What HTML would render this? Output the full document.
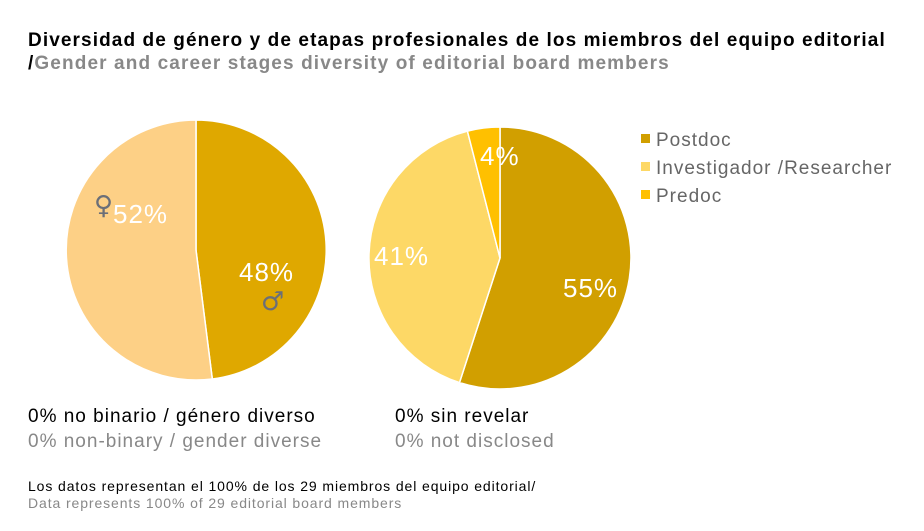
<!DOCTYPE html>
<html><head><meta charset="utf-8"><style>
body{margin:0;background:#fff;width:924px;height:531px;overflow:hidden;font-family:"Liberation Sans",sans-serif;}
.t{position:absolute;white-space:nowrap;letter-spacing:1px;}
</style></head><body>
<div class="t" style="left:28px;top:30px;font-size:19px;font-weight:bold;color:#000;letter-spacing:1.1px;">Diversidad de género y de etapas profesionales de los miembros del equipo editorial</div>
<div class="t" style="left:28px;top:53px;font-size:19px;font-weight:bold;color:#888;letter-spacing:1.12px;"><span style="color:#000">/</span>Gender and career stages diversity of editorial board members</div>
<svg width="924" height="531" style="position:absolute;left:0;top:0">
<g stroke="#fff" stroke-width="1.5">
<path d="M196,250 L196,120 A130,130 0 0 1 212.3,379 Z" fill="#DFA800"/>
<path d="M196,250 L212.3,379 A130,130 0 1 1 196,120 Z" fill="#FDD086"/>
<path d="M500,258 L500,127 A131,131 0 1 1 459.5,382.6 Z" fill="#D19F00"/>
<path d="M500,258 L459.5,382.6 A131,131 0 0 1 467.4,131.1 Z" fill="#FDD866"/>
<path d="M500,258 L467.4,131.1 A131,131 0 0 1 500,127 Z" fill="#FFC000"/>
</g>
<g font-family="Liberation Sans, sans-serif" font-size="26" fill="#fff" letter-spacing="1">
<text x="113" y="223">52%</text>
<text x="239" y="281">48%</text>
<text x="374" y="265">41%</text>
<text x="563" y="297">55%</text>
<text x="480" y="165">4%</text>
</g>
<text x="94" y="214" font-size="26" fill="#6b6f78" font-family="DejaVu Sans, sans-serif">♀</text>
<text x="261" y="310" font-size="26" fill="#6b6f78" font-family="DejaVu Sans, sans-serif">♂</text>
<rect x="641" y="134" width="9" height="9" fill="#D19F00"/>
<rect x="641" y="162" width="9" height="9" fill="#FDD866"/>
<rect x="641" y="190" width="9" height="9" fill="#FFC000"/>
<g font-family="Liberation Sans, sans-serif" font-size="19" fill="#666" letter-spacing="1">
<text x="656" y="146">Postdoc</text>
<text x="656" y="174">Investigador /Researcher</text>
<text x="656" y="202">Predoc</text>
</g>
</svg>
<div class="t" style="left:28px;top:406px;font-size:19px;color:#000;">0% no binario / género diverso</div>
<div class="t" style="left:28px;top:431px;font-size:19px;color:#888;">0% non-binary / gender diverse</div>
<div class="t" style="left:395px;top:406px;font-size:19px;color:#000;">0% sin revelar</div>
<div class="t" style="left:395px;top:431px;font-size:19px;color:#888;">0% not disclosed</div>
<div class="t" style="left:28px;top:478px;font-size:14px;color:#000;letter-spacing:0.9px;">Los datos representan el 100% de los 29 miembros del equipo editorial/</div>
<div class="t" style="left:28px;top:495px;font-size:14px;color:#888;letter-spacing:0.9px;">Data represents 100% of 29 editorial board members</div>
</body></html>
